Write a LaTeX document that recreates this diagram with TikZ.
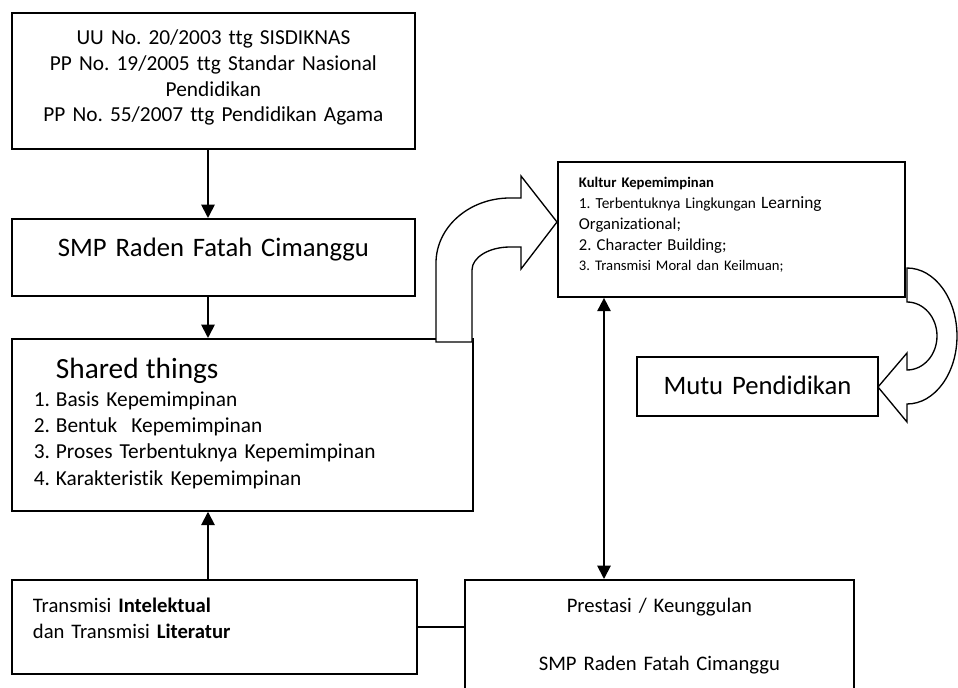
\documentclass[tikz,border=0pt]{standalone}
\usepackage{fontspec}
\setmainfont{Carlito}[Ligatures=CommonOff]
\usetikzlibrary{arrows.meta,positioning,calc}
\frenchspacing

\begin{document}
\begin{tikzpicture}[
  x=0.75pt, y=-0.75pt,
  box/.style={draw, rectangle, line width=1.4pt, anchor=north west,
              inner ysep=0pt},
  arr/.style={-{Triangle[length=10pt,width=10pt]}, line width=1.4pt},
  dblarr/.style={{Triangle[length=10pt,width=10pt]}-{Triangle[length=10pt,width=10pt]},
                 line width=1.4pt},
  bigarrow/.style={draw, fill=white, line width=1pt, line join=miter}
]
\path[use as bounding box, clip] (0,0) rectangle (958,688);

%% Left column
\node[box, align=center, inner xsep=0pt, text width=302.25pt,
      text height=24pt, text depth=78pt, font=\fontsize{16}{19.2}\selectfont]
  (law) at (11,12) {UU No. 20/2003 ttg SISDIKNAS\\
                    PP No. 19/2005 ttg Standar Nasional\\
                    Pendidikan\\
                    PP No. 55/2007 ttg Pendidikan Agama};

\node[box, align=center, inner xsep=0pt, text width=302.25pt,
      text height=28.2pt, text depth=29.55pt, font=\fontsize{20}{24}\selectfont]
  (smp) at (11,218) {SMP Raden Fatah Cimanggu};

\node[box, align=left, inner xsep=16.5pt, text width=312.75pt,
      text height=29.5pt, text depth=99.4pt, font=\fontsize{16}{19.7}\selectfont]
  (shared) at (11,338) {\hspace*{16.5pt}{\fontsize{22}{26}\selectfont Shared things}\\[1.3pt]
    \makebox[16.5pt][l]{1.}Basis Kepemimpinan\\
    \makebox[16.5pt][l]{2.}Bentuk~ Kepemimpinan\\
    \makebox[16.5pt][l]{3.}Proses Terbentuknya Kepemimpinan\\
    \makebox[16.5pt][l]{4.}Karakteristik Kepemimpinan};

\node[box, align=left, inner xsep=15.75pt, text width=272.25pt,
      text height=24.5pt, text depth=46pt, font=\fontsize{15.5}{19.5}\selectfont]
  (trans) at (11,579) {Transmisi \textbf{Intelektual}\\
                       dan Transmisi \textbf{Literatur}};

%% Right column
\node[box, align=left, inner xsep=15.75pt, text width=228.75pt,
      text height=19.5pt, text depth=81.75pt, font=\fontsize{11.5}{15.56}\selectfont]
  (kultur) at (557,161) {{\bfseries\fontsize{11}{15.56}\selectfont Kultur Kepemimpinan}\\
    1. Terbentuknya Lingkungan {\fontsize{13}{15.56}\selectfont Learning}\\
    {\fontsize{12.5}{15.56}\selectfont Organizational;}\\
    {\fontsize{12.5}{15.56}\selectfont 2. Character Building;}\\
    {\fontsize{11}{15.56}\selectfont 3. Transmisi Moral dan Keilmuan;}};

\node[box, align=center, inner xsep=0pt, text width=180.75pt,
      text height=28.2pt, text depth=16.05pt, font=\fontsize{20}{24}\selectfont]
  (mutu) at (636,356) {Mutu Pendidikan};

\node[box, align=center, inner xsep=0pt, text width=291.75pt,
      text height=24.5pt, text depth=70pt, font=\fontsize{15.5}{19.5}\selectfont]
  (pres) at (464,579) {Prestasi / Keunggulan\\[24pt]
                       SMP Raden Fatah Cimanggu};

%% Straight connectors
\coordinate (spine) at (208,0);
\coordinate (link) at (604,0);
\draw[arr] (law.south -| spine) -- (smp.north -| spine);
\draw[arr] (smp.south -| spine) -- (shared.north -| spine);
\draw[arr] (trans.north -| spine) -- (shared.south -| spine);
\draw[line width=1.4pt] (trans.east) -- (trans.east -| pres.west);
\draw[dblarr] (kultur.south -| link) -- (pres.north -| link);

%% Bent block arrow: shared things -> kultur
\draw[bigarrow] (436,342) -- (436,263)
  arc[start angle=180, end angle=270, x radius=74, y radius=65]
  -- (521,198) -- (521,176) -- (557,222) -- (521,269) -- (521,247) -- (510,247)
  arc[start angle=270, end angle=180, x radius=38, y radius=23]
  -- (472,342) -- cycle;

%% U-turn block arrow: kultur -> mutu
\draw[bigarrow] (907,268)
  arc[start angle=-90, end angle=90, x radius=50, y radius=68]
  -- (907,422) -- (878,387) -- (907,353) -- (907,370)
  arc[start angle=90, end angle=-90, x radius=30, y radius=34]
  -- cycle;

\end{tikzpicture}
\end{document}
